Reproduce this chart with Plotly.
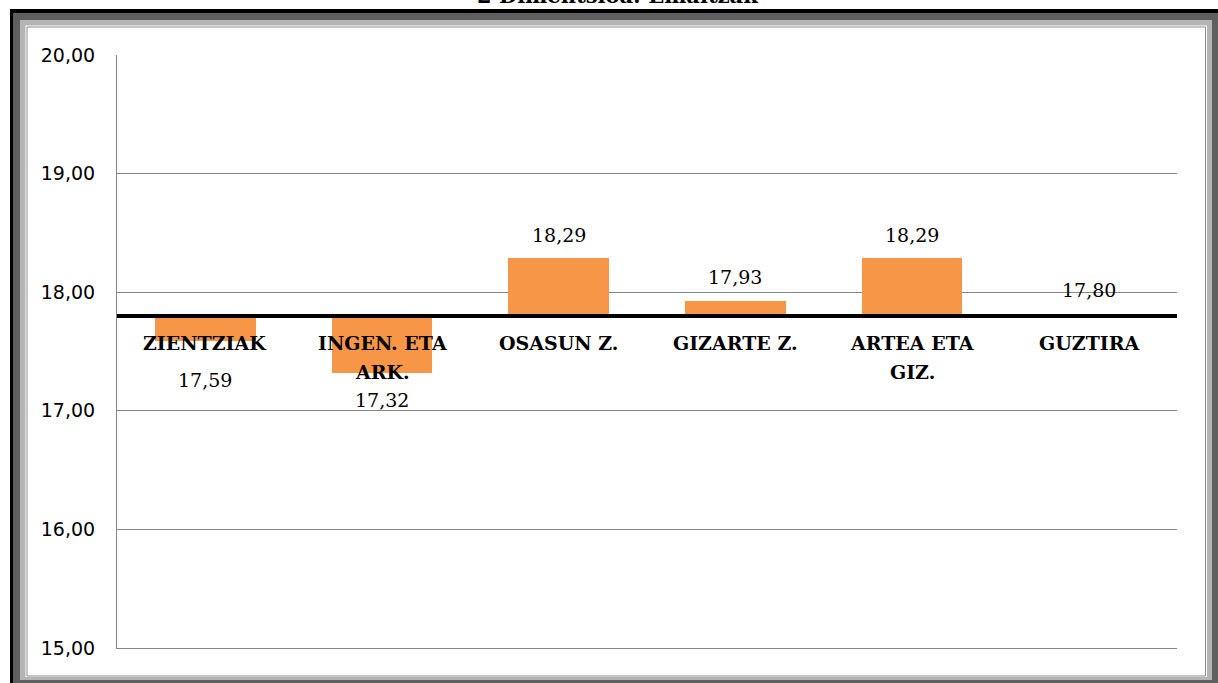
import plotly.graph_objects as go

# ---- data ----
categories = ["ZIENTZIAK", "INGEN. ETA<br>ARK.", "OSASUN Z.", "GIZARTE Z.", "ARTEA ETA<br>GIZ.", "GUZTIRA"]
values = [17.59, 17.32, 18.29, 17.93, 18.29, 17.80]
baseline = 17.80
y_ticks = [15, 16, 17, 18, 19, 20]
title_text = "2 Dimentsioa: Emaitzak"

# label offsets (styling, px)
label_yshift = [-39, -27, 23, 24, 23, 26]

W, H = 1218, 683
L, R, T, B = 117, 1177, 55, 648

def px_x(p):
    return (p - L) / (R - L)

def px_y(p):
    return (B - p) / (B - T)

x_idx = list(range(len(categories)))

fig = go.Figure()
fig.add_trace(go.Bar(
    x=x_idx,
    y=[v - baseline for v in values],
    base=baseline,
    width=0.57,
    marker=dict(color="#F79646", line=dict(width=0)),
    hoverinfo="skip",
))

annotations = [dict(
    x=px_x(617), y=px_y(-4), xref="paper", yref="paper",
    text=f"<b>{title_text}</b>", showarrow=False,
    xanchor="center", yanchor="middle",
    font=dict(family="DejaVu Serif", size=21, color="#000000"),
)]
for i, (c, v) in enumerate(zip(categories, values)):
    annotations.append(dict(
        x=i, y=v, xref="x", yref="y",
        text=f"{v:.2f}".replace(".", ","),
        showarrow=False, yshift=label_yshift[i],
        yanchor="middle",
        font=dict(family="DejaVu Serif", size=19, color="#000000"),
    ))
    for j, line in enumerate(c.split("<br>")):
        annotations.append(dict(
            x=i, y=baseline, xref="x", yref="y",
            text=f"<b>{line}</b>",
            showarrow=False, yshift=-27 - 29 * j,
            yanchor="middle",
            font=dict(family="DejaVu Serif", size=19, color="#000000"),
        ))

shapes = [
    # frame
    dict(type="rect", xref="paper", yref="paper", x0=px_x(10), x1=px_x(1220), y0=px_y(9), y1=px_y(685),
         fillcolor="#000000", line=dict(width=0), layer="below"),
    dict(type="rect", xref="paper", yref="paper", x0=px_x(13), x1=px_x(1220), y0=px_y(13), y1=px_y(685),
         fillcolor="#5f5f5f", line=dict(width=0), layer="below"),
    dict(type="rect", xref="paper", yref="paper", x0=px_x(20), x1=px_x(1212), y0=px_y(20), y1=px_y(680),
         fillcolor="#b4b4b4", line=dict(width=0), layer="below"),
    dict(type="rect", xref="paper", yref="paper", x0=px_x(25.5), x1=px_x(1207), y0=px_y(25.5), y1=px_y(677),
         fillcolor="#ffffff", line=dict(width=0), layer="below"),
    dict(type="rect", xref="paper", yref="paper", x0=px_x(27), x1=px_x(1205.5), y0=px_y(27), y1=px_y(676),
         fillcolor="#ffffff", line=dict(width=1, color="#8c8c8c"), layer="below"),
    # axis crossing line
    dict(type="line", xref="paper", yref="y", x0=0, x1=1, y0=baseline, y1=baseline,
         line=dict(color="#000000", width=4), layer="above"),
]

fig.update_layout(
    width=W, height=H,
    margin=dict(l=L, r=W - R, t=T, b=H - B),
    paper_bgcolor="#ffffff",
    plot_bgcolor="rgba(0,0,0,0)",
    separators=", ",
    showlegend=False,
    bargap=0,
    xaxis=dict(
        range=[-0.5, len(categories) - 0.5],
        showticklabels=False, showgrid=False, zeroline=False,
        showline=True, linecolor="#868686", linewidth=1, ticks="",
        fixedrange=True,
    ),
    yaxis=dict(
        range=[y_ticks[0], y_ticks[-1]],
        tickvals=y_ticks,
        tickformat=".2f",
        showgrid=True, gridcolor="#868686", gridwidth=1,
        zeroline=False,
        showline=True, linecolor="#868686", linewidth=1,
        ticks="", ticklabelstandoff=17,
        tickfont=dict(family="DejaVu Sans", size=19, color="#000000"),
        fixedrange=True,
    ),
    shapes=shapes,
    annotations=annotations,
)

fig.write_html(
    "out.html",
    post_script="document.body.style.margin='0';document.body.style.overflow='hidden';",
    config={"displayModeBar": False},
)
